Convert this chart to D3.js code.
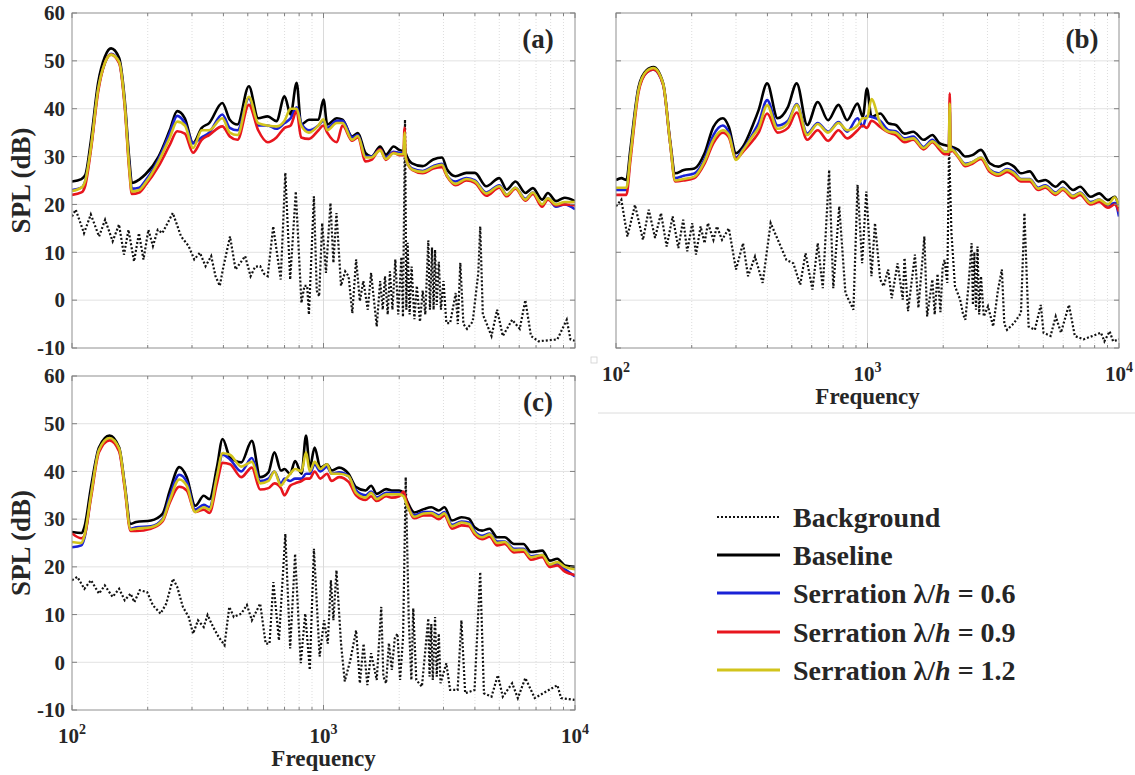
<!DOCTYPE html>
<html><head><meta charset="utf-8">
<script src="https://cdn.jsdelivr.net/npm/d3@7"></script>
<style>
body{margin:0;background:#fff}
svg{display:block}
text{font-family:"Liberation Serif","Times New Roman",serif;font-weight:bold;fill:#262626}
</style>
</head><body>
<svg id="chart" width="1135" height="775"></svg>
<script>
// ---------- DATA ----------
const yTicks = [60,50,40,30,20,10,0,-10];
const xMajor = [100,1000,10000];
const xMajorExp = ["2","3","4"];
const xMinor = [200,300,400,500,600,700,800,900,2000,3000,4000,5000,6000,7000,8000,9000];
const seriesNames = ["Background","Baseline","Serration","Serration","Serration"];
const seriesRatios = [null,null,"0.6","0.9","1.2"];
const panelLabels = ["(a)","(b)","(c)"];

// Panel (a)
const fa = [100,109,113,119,127,135,143,154,162,169,173,185,196,221,245,262,281,303,328,351,396,424,455,505,550,600,650,700,740,782,815,875,955,1000,1035,1130,1190,1300,1370,1470,1550,1680,1770,1900,2000,2080,2100,2120,2250,2480,2730,2960,3100,3350,3700,4000,4440,5000,5350,5800,6350,6800,7400,7800,8400,9100,10000];
const aBase = [24.8,25.3,26.2,33.5,45.4,50.8,52.6,50.6,41.9,29.4,24.5,25.2,26.3,30,35.6,39.5,38,32.8,36,37,41.2,37.7,36.7,44.7,38,38.4,37.4,42.6,38.8,45.4,36.7,37.7,37.7,41.9,36.7,38,37.7,34.2,34.9,30.7,30,32.1,30.4,32.1,31.4,31.2,31.8,30.8,28.6,28,29.4,29.8,27.3,25.9,26.6,26.6,23.8,25.5,23.1,24.8,22.4,23.4,21,22.4,20.7,21.4,20.7];
const aBlue = [23,23.5,25,32,44,49.5,51.5,49.8,41,28,23.3,23.5,25,29.5,35,38.5,37,32.8,34,35,38.8,36,35.5,42.2,36.5,36.5,35.8,37,38,40.3,37,35.5,36.5,37.5,36,37.5,37.5,34,34.5,30,30,31.5,29.8,31,30.8,30.8,33,30,27.5,27,28,28.5,26,24.8,25.5,25,22.5,24,22,23.5,21.2,22.5,19.8,21.3,19.5,20,19];
const aRed = [22,22.5,24,31.5,43.5,49.5,51.3,49.5,40.5,27,22.2,22.5,24,28,32.5,35.3,34.8,30.8,33.5,34.5,36.3,34.2,33.5,40.8,35.5,33,34,36,36.5,39.5,34,33.7,35.5,36.5,35,33,36.5,33.3,34,29,29.3,31.5,29.3,30.8,30.3,30.3,36,30,27.2,26.5,27.5,27.8,25.8,24,25,24.5,21.8,23.5,21.7,23.3,20.8,22.2,19.5,21,19.8,20,19.8];
const aYellow = [22.8,23.5,25,32,44,49.5,51.3,49.8,41,27.5,22.7,23,24.5,29,34,37.3,36.5,31.8,35.5,35.5,38,35,34.5,42.5,37,36.5,36.3,37.5,40,40,36.5,35,36.5,37.8,35.5,37,37,33.5,34.3,29.8,29.8,31.3,29.5,30.7,30.5,30.5,35,29.8,27.3,26.8,27.8,28.3,26,24.3,25.3,24.8,22.3,23.8,22,23.5,21,22.5,20,21.3,20,20.5,20.5];
const aBg = [[100,17.5],[103.5,18.9],[111.6,14],[118.8,17.9],[128.1,13.3],[135.4,16.8],[145.1,12.3],[153.8,15.8],[160.9,9.5],[167.7,14.7],[176.5,8.1],[184.6,14],[192.4,8.5],[201.3,14.7],[209.8,11.3],[219.3,14.7],[228.6,14],[251.7,18.2],[271.5,13.3],[290.9,11.3],[306.3,8.5],[322.6,9.9],[339.6,7.1],[357.7,9.2],[372,5],[387,3],[400,7],[425,13.3],[447,6.4],[470,8],[488,9.2],[513,5],[535,7],[560,7.1],[580,5.5],[600,5],[631,15.4],[676,4.3],[705,26.6],[737,4.3],[776,22.7],[817,-0.6],[840,3],[861,3],[875,-3],[916,21.7],[940,2],[961,0.8],[988,16.1],[1023,5.7],[1066,20.3],[1095,7.8],[1126,18.2],[1174,3],[1220,6],[1258,5],[1302,-2.7],[1348,8.5],[1395,-0.2],[1440,4],[1500,-2],[1546,5.7],[1628,-5.5],[1680,4],[1720,-2],[1756,5],[1800,-3],[1837,6],[1880,-2],[1930,8.5],[1982,-3],[2040,9],[2070,-3.5],[2109,37.7],[2135,-2],[2160,12],[2200,-3],[2240,7],[2298,-4],[2350,3],[2419,-4.5],[2480,2],[2540,-3],[2610,12.5],[2650,-2],[2700,11],[2740,-2],[2777,10.5],[2820,-1],[2874,8],[2930,-2],[3000,4],[3080,-4.8],[3187,-4.8],[3356,1.5],[3420,-5],[3499,7.8],[3600,-5],[3722,-6],[3919,-4.5],[4126,5.7],[4199,15.4],[4300,-3],[4421,-4.5],[4656,-7.5],[4902,-2],[5163,-7.5],[5626,-4.1],[6029,-6],[6346,0],[6683,-7.5],[7160,-8.6],[8506,-8.2],[9272,-4.1],[9594,-8.2],[10000,-8.5]];

// Panel (b)
const fb = [100,105,110,114,123,132,141,154,164,172,186,205,225,244,266,281,300,320,352,369,399,439,483,523,576,634,697,767,830,913,958,995,1037,1123,1216,1296,1404,1520,1672,1811,1930,2024,2105,2123,2140,2157,2299,2450,2611,2827,3061,3315,3589,3825,4076,4414,4778,5093,5603,5972,6571,7003,7704,8342,9034,9625,10000];
const bBase = [25.1,25.5,25.1,31.4,44.6,48,48.7,45.3,33.5,26.5,27.2,27.5,30.7,36.2,38,36.2,30.7,32.1,36.9,39.7,45.3,38,40.4,45.3,36.6,41.4,37.6,40.8,37.6,41.1,38.3,44.2,38.3,39,36.9,36.6,34.8,35.2,33.5,34.5,32.8,32.4,32.2,32.3,32.2,32.1,31.4,30,30.3,31.4,28.6,27.9,28.6,27.9,26.5,26.9,24.8,25.1,23.7,24.8,23,23.7,21.6,22.3,20.9,21.6,18.9];
const bBlue = [23,23,23,30,44,47.5,48.2,45,33,25.5,26,26.5,29.5,34.5,36.5,35,29.8,31.5,35,37,41.8,36.5,37.5,41,34.8,37,35.2,37.2,35.2,38,36.3,38.5,38.3,37.5,35.5,35.3,33.8,34.2,32,33.5,32,31,31,40,31.5,31.8,30,28.5,28.8,29.8,27.3,26.5,27.4,26.8,25.3,25.3,23.5,24,22.5,23.5,21.8,22.5,20.5,21,19.8,20.3,17.5];
const bRed = [22,22,22,29,43.5,47.5,48.2,45,33,24.8,25,25.5,28.5,32.8,35,34,29.5,31,33.5,35,39,35,36,39.2,33.5,35.5,33.3,35.5,33.8,35.5,36.5,36,37.5,36.2,35,34.5,33,33.5,31.5,33,31.5,30.5,30.5,43.2,31,31.3,29.8,28,28.5,29.5,26.8,26,26.8,26,24.8,24.8,23,23.5,22,23,21.3,22,20,20.5,19.3,20,18.5];
const bYellow = [23.5,23.5,23.5,30,44,47.8,48.5,45.2,33,25,25.3,25.8,29,33.5,35.5,34.5,29.3,31.3,34.5,36,40.7,35.8,37,40.8,34.5,36.8,35,37,35.5,36.5,38,38,42,37,35.2,35,33.5,33.8,31.8,33.2,32,31,31,41.1,31.3,31.5,30,28.3,28.8,29.8,27.2,26.3,27.2,26.5,25.2,25.2,23.3,23.8,22.3,23.3,21.7,22.4,20.3,21,20,21.5,19.5];
const bBg = [[100,19.6],[105,21],[111,13.3],[119,19.9],[128,12.6],[135,18.9],[143,13],[151,18.2],[159,11.2],[168,17.5],[177,10.9],[185,16.8],[192,10.2],[201,16.1],[208,9.5],[217,15.4],[225,11.9],[232,16.1],[244,12.6],[252,15.4],[264,12.6],[281,15],[300,6.4],[320,11.9],[335,5],[357,9.1],[383,3.6],[412,16.1],[446,11.9],[476,8.4],[507,7.7],[540,3.2],[567,9.8],[604,2.2],[634,11.9],[664,2.5],[704,27.2],[731,2.5],[772,19.6],[817,1.5],[879,-2],[913,24.1],[952,7.7],[989,22.7],[1037,5],[1071,16.1],[1123,4.3],[1160,2.9],[1208,6.4],[1248,0.4],[1317,7.7],[1381,0.1],[1404,8.8],[1449,-2.3],[1544,9.5],[1594,-1.6],[1683,13.3],[1726,-3.4],[1811,4.3],[1850,-3],[1899,5.5],[1950,-2.5],[1990,7],[2024,8.4],[2076,3.6],[2110,32.1],[2157,14],[2227,2.9],[2336,0.1],[2400,-3],[2450,-4.1],[2520,3],[2594,11.9],[2625,-1],[2660,10],[2700,-2],[2738,11.2],[2780,-3],[2827,5],[2900,-3.4],[3013,-1.3],[3160,-5.5],[3300,2],[3422,6.4],[3500,-5],[3589,-6.2],[3825,-4.8],[4076,-2.7],[4207,18.2],[4370,-5.5],[4629,-6.2],[4887,-1],[5012,-6.8],[5343,-7.5],[5603,-3.4],[5878,-6.8],[6324,-1],[6675,-7.5],[7228,-8.2],[8476,-6.8],[8748,-8.6],[9178,-6.5],[9474,-8.6],[10000,-8.2]];

// Panel (c)
const fc = [100,109,112,119,128,141,154,162,171,180,206,229,245,267,286,309,334,352,377,397,425,471,519,560,604,638,677,700,737,771,818,852,882,922,971,1033,1077,1153,1258,1348,1469,1546,1628,1774,1869,2001,2080,2145,2298,2505,2683,2874,3026,3243,3534,3786,3986,4270,4576,4902,5253,5724,6239,6683,7412,7940,8506,9114,10000];
const cBase = [27.3,27.1,28.3,36.7,45,47.5,45,37.4,29,29.4,29.7,31.1,36,40.9,38.8,32.8,34.9,34.2,40.9,46.8,42.9,41.9,46.4,38.8,39.8,44,40.2,40.5,39.5,42.2,39.5,47.5,40.8,45,40.8,41.5,40.2,40.8,39.5,36.7,36,37,35.3,36.3,36,36,35.5,33.9,31.4,32.1,32.5,31.8,32.5,29.7,30.4,30.1,28.3,27.6,28,26.2,26.2,24.8,24.8,23.1,23.4,21.3,21.7,20.3,20];
const cBlue = [24.1,24.5,26,35,44.5,46.8,44.5,37,28,28.3,28.5,30,34.8,39.3,37.8,32,33,32.5,39,43.5,42.5,40,42.8,38,38.5,40,37.5,38.5,38,38.5,38.5,39.5,39.5,41.5,40,41,39.5,39.8,39,36,35,35.8,34.5,35.5,35.5,35.5,35,33.2,30.8,31.5,31.5,30.8,31.5,28.8,29.5,29.3,27.5,26.5,27,25.3,25.3,23.8,23.8,22.2,22.5,20.3,20.7,19.5,18];
const cRed = [27,26,26.5,34.5,44,46.5,44.2,36.5,27.5,27.5,28,29.5,33.5,36.8,36,31.5,32,31.3,37.5,41.8,41.5,38.8,40.8,36.2,36.5,37.5,36.5,35,37,37.5,38,38.5,38.5,40,38.5,39.5,38,38.8,37.8,35,34,34.8,33.8,34.8,34.5,34.8,35.8,33.5,30.2,30.8,30.8,30,30.8,28,28.7,28.5,26.8,25.8,26.3,24.5,24.8,23,23.2,21.5,22,20,20.3,19,18.3];
const cYellow = [25.2,25,26.5,35,44.5,47,44.8,37,27.8,28,28.3,29.8,34,38.3,37,31.5,32.5,32,39,43.8,43.5,41,42,37.5,38,40,37,38,39.5,40.5,40,44,40,42,40.5,41.5,39.5,39.5,39,35.5,34.5,35.5,34.2,35.2,35.2,35.2,34.8,33,30.5,31.2,31.3,30.5,31.2,28.5,29.3,29,27.2,26.2,26.8,25,25.2,23.5,23.6,22,22.5,20.5,21,20,19.5];
const cBg = [[100,17.2],[105,17.9],[112,15.4],[119,17.2],[128,14.4],[135,16.1],[145,13.7],[154,15.4],[162,13],[171,14.4],[177,12.6],[186,15.1],[199,14.7],[210,11.9],[225,10.2],[237,12.3],[252,17.5],[262,15.8],[276,11.6],[291,9.5],[303,6],[317,8.8],[334,7.4],[346,9.9],[364,7.4],[383,5.3],[404,3.6],[422,11.6],[440,9.5],[471,10.2],[496,12],[519,8.8],[560,12.3],[589,3.9],[610,3.9],[632,16.8],[665,4.6],[705,26.9],[737,2.9],[771,22.7],[812,-0.2],[846,10.2],[882,-1.6],[916,23.8],[965,1.2],[1005,8.8],[1040,3.9],[1070,17.2],[1095,8.8],[1126,19.3],[1174,3.9],[1215,-4],[1279,0.5],[1348,6.7],[1395,-4.4],[1443,3.9],[1494,-4.8],[1546,1.9],[1628,-3.7],[1697,11.6],[1730,-3],[1774,-4.4],[1820,4],[1869,-1.6],[1920,5],[1968,6],[2016,-3.7],[2072,5.3],[2123,38.8],[2183,8.8],[2236,-3.7],[2274,11.3],[2338,-3.7],[2462,-5.1],[2610,9.2],[2640,-3],[2683,8],[2720,-3.7],[2777,9.5],[2820,-3],[2874,6],[2920,-4.4],[3079,-0.2],[3187,-5.8],[3414,-5.8],[3534,8.8],[3658,-6.5],[3986,-5.8],[4199,18.9],[4345,-6.5],[4656,-7.2],[4935,-2.7],[5163,-7.2],[5626,-4.4],[5925,-7.5],[6346,-3.3],[6918,-7.5],[8506,-4.8],[8805,-7.5],[10000,-7.9]];

// ---------- STYLE / LAYOUT ----------
const colors = ["#111111","#000000","#1a22d6","#e8161e","#d2c41c"];
const panels = [
  {box:[72,13,575,348], f:fa, s:[aBase,aBlue,aRed,aYellow], bg:aBg, label:panelLabels[0], xl:false, yl:true},
  {box:[616,13,1119,348], f:fb, s:[bBase,bBlue,bRed,bYellow], bg:bBg, label:panelLabels[1], xl:true, yl:false},
  {box:[72,376,575,710], f:fc, s:[cBase,cBlue,cRed,cYellow], bg:cBg, label:panelLabels[2], xl:true, yl:true}
];

const svg = d3.select("#chart");
const defs = svg.append("defs");

panels.forEach((p,i)=>{
  const [x0,y0,x1,y1] = p.box;
  const x = d3.scaleLog().domain([100,10000]).range([x0,x1]);
  const y = d3.scaleLinear().domain([-10,60]).range([y1,y0]);
  const g = svg.append("g");
  const cid = "clip"+i;
  defs.append("clipPath").attr("id",cid).append("rect")
    .attr("x",x0).attr("y",y0).attr("width",x1-x0).attr("height",y1-y0);

  // grid
  g.selectAll(".hg").data(yTicks.filter(v=>v>-10&&v<60)).enter().append("line")
    .attr("x1",x0).attr("x2",x1).attr("y1",d=>y(d)).attr("y2",d=>y(d))
    .attr("stroke","#e2e2e2").attr("stroke-width",1);
  g.selectAll(".vm").data(xMinor).enter().append("line")
    .attr("x1",d=>x(d)).attr("x2",d=>x(d)).attr("y1",y0).attr("y2",y1)
    .attr("stroke","#d4d4d4").attr("stroke-width",0.8).attr("stroke-dasharray","1,2");
  g.append("line").attr("x1",x(1000)).attr("x2",x(1000)).attr("y1",y0).attr("y2",y1)
    .attr("stroke","#dadada").attr("stroke-width",1);

  // lines
  const lg = g.append("g").attr("clip-path",`url(#${cid})`);
  const lineLin = d3.line().x(d=>x(d[0])).y(d=>y(d[1]));
  const lineSm = d3.line().x(d=>x(d[0])).y(d=>y(d[1])).curve(d3.curveMonotoneX);
  lg.append("path").attr("d",lineLin(p.bg)).attr("fill","none")
    .attr("stroke",colors[0]).attr("stroke-width",2.2).attr("stroke-dasharray","2,2");
  p.s.forEach((vals,k)=>{
    lg.append("path").attr("d",lineSm(d3.zip(p.f,vals))).attr("fill","none")
      .attr("stroke",colors[k+1]).attr("stroke-width",2.6).attr("stroke-linejoin","round");
  });

  // box
  g.append("rect").attr("x",x0).attr("y",y0).attr("width",x1-x0).attr("height",y1-y0)
    .attr("fill","none").attr("stroke","#909090").attr("stroke-width",1);
  // ticks (inward)
  yTicks.forEach(v=>{
    g.append("line").attr("x1",x0).attr("x2",x0+5).attr("y1",y(v)).attr("y2",y(v)).attr("stroke","#808080");
    g.append("line").attr("x1",x1-5).attr("x2",x1).attr("y1",y(v)).attr("y2",y(v)).attr("stroke","#808080");
  });
  xMinor.concat(xMajor).forEach(v=>{
    const L = xMajor.includes(v)?5:3;
    g.append("line").attr("x1",x(v)).attr("x2",x(v)).attr("y1",y1-L).attr("y2",y1).attr("stroke","#808080");
    g.append("line").attr("x1",x(v)).attr("x2",x(v)).attr("y1",y0).attr("y2",y0+L).attr("stroke","#808080");
  });

  if(p.yl){
    g.selectAll(".yt").data(yTicks).enter().append("text")
      .attr("x",x0-7).attr("y",d=>y(d)).attr("dy","0.35em").attr("text-anchor","end")
      .attr("font-size",21).text(d=>d);
    g.append("text").attr("transform",`translate(30,${(y0+y1)/2}) rotate(-90)`)
      .attr("text-anchor","middle").attr("font-size",27).text("SPL (dB)");
  }
  if(p.xl){
    xMajor.forEach((v,k)=>{
      const t = g.append("text").attr("x",x(v)).attr("y",y1+33).attr("text-anchor","middle").attr("font-size",21);
      t.append("tspan").text("10");
      t.append("tspan").attr("font-size",14).attr("dy",-9).text(xMajorExp[k]);
    });
    g.append("text").attr("x",(x0+x1)/2).attr("y",y1+56).attr("text-anchor","middle")
      .attr("font-size",23).text("Frequency");
  }
  g.append("text").attr("x",x1-37).attr("y",y0+35).attr("text-anchor","middle")
    .attr("font-size",27).attr("fill","#111").text(p.label);
});

// small artifacts of the composite figure
svg.append("line").attr("x1",598).attr("x2",1135).attr("y1",413).attr("y2",413)
  .attr("stroke","#dcdcdc").attr("stroke-width",1);
svg.append("rect").attr("x",591).attr("y",357).attr("width",6).attr("height",6)
  .attr("fill","none").attr("stroke","#d0d0d0").attr("stroke-width",0.8);

// legend
const legY = [517,555,593,632,670];
const lg = svg.append("g");
seriesNames.forEach((n,k)=>{
  const ln = lg.append("line").attr("x1",717).attr("x2",780).attr("y1",legY[k]).attr("y2",legY[k])
    .attr("stroke",colors[k]).attr("stroke-width",k===0?2.2:3);
  if(k===0) ln.attr("stroke-dasharray","2,2");
  const t = lg.append("text").attr("x",793).attr("y",legY[k]).attr("dy","0.35em")
    .attr("font-size",28).attr("fill","#000");
  t.append("tspan").text(n);
  if(seriesRatios[k]){
    t.append("tspan").text(" λ/");
    t.append("tspan").attr("font-style","italic").text("h");
    t.append("tspan").text(" = "+seriesRatios[k]);
  }
});
</script>
</body></html>
